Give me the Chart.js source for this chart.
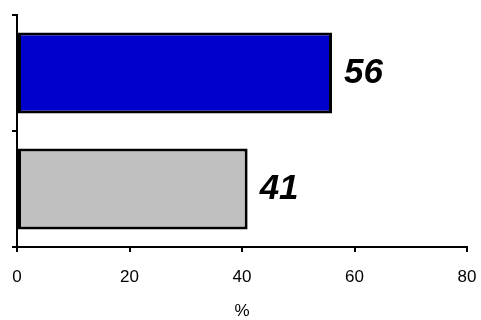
<!DOCTYPE html>
<html>
<head>
<meta charset="utf-8">
<script src="https://cdn.jsdelivr.net/npm/chart.js@4/dist/chart.umd.min.js"></script>
<style>
  html, body { margin: 0; padding: 0; background: #fff; }
  #wrap { width: 481px; height: 320px; }
</style>
</head>
<body>
<div id="wrap"><canvas id="myChart1" width="481" height="320"></canvas></div>
<script>
// chart values
const categories = ["Group A", "Group B"];
const values = [56, 41];
const barColors = ["#0000CC", "#C0C0C0"];
const xTicks = [0, 20, 40, 60, 80];
const xTitle = "%";

Chart.defaults.font.family = "'Liberation Sans', Arial, sans-serif";
Chart.defaults.color = "#000";

// draws the big bold italic value next to each bar
const valueLabels = {
  id: "valueLabels",
  afterDatasetsDraw(chart) {
    const ctx = chart.ctx;
    const meta = chart.getDatasetMeta(0);
    ctx.save();
    ctx.font = "italic bold 35px 'Liberation Sans', Arial, sans-serif";
    ctx.fillStyle = "#000";
    ctx.textBaseline = "middle";
    ctx.textAlign = "left";
    meta.data.forEach(function (bar, i) {
      ctx.fillText(String(values[i]), bar.x + 12, bar.y);
    });
    ctx.restore();
  },
};

var x = new Chart(document.getElementById("myChart1"), {
  type: "bar",
  data: {
    labels: categories,
    datasets: [
      {
        data: values,
        backgroundColor: barColors,
        borderColor: "#000",
        borderWidth: 3,
        borderSkipped: false,
        barPercentage: 0.7,
        categoryPercentage: 1,
      },
    ],
  },
  options: {
    indexAxis: "y",
    responsive: false,
    animation: false,
    layout: { padding: { top: 15, right: 14, left: 0, bottom: 0 } },
    plugins: { legend: { display: false }, tooltip: { enabled: false } },
    scales: {
      x: {
        min: 0,
        max: 80,
        afterBuildTicks: function (scale) {
          scale.ticks = xTicks.map(function (v) { return { value: v }; });
        },
        afterFit: function (scale) {
          scale.height = 73;
          scale.paddingLeft = 0;
          scale.paddingRight = 0;
        },
        border: { color: "#000", width: 2 },
        grid: { drawOnChartArea: false, drawTicks: true, tickLength: 5, color: "#000", lineWidth: 2 },
        ticks: { font: { size: 17 }, padding: 15, color: "#000" },
        title: { display: true, text: xTitle, font: { size: 17 }, color: "#000", padding: { top: 0, bottom: -2 } },
      },
      y: {
        afterFit: function (scale) {
          scale.width = 17;
          scale.paddingTop = 0;
          scale.paddingBottom = 0;
        },
        border: { color: "#000", width: 2 },
        grid: { drawOnChartArea: false, drawTicks: true, tickLength: 5, color: "#000", lineWidth: 2, offset: true },
        ticks: { display: false },
      },
    },
  },
  plugins: [valueLabels],
});
</script>
</body>
</html>
